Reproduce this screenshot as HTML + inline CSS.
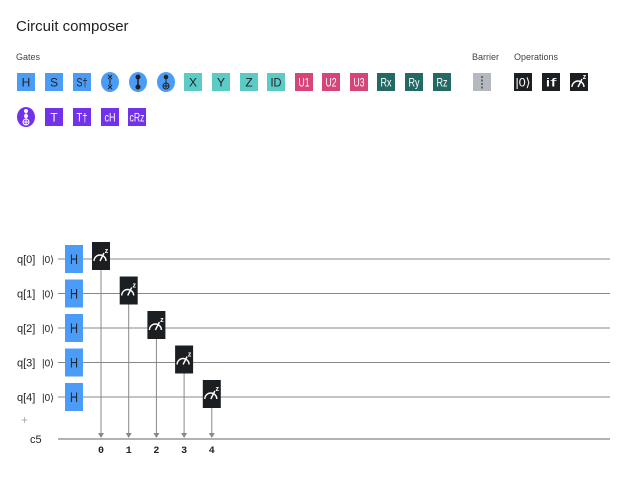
<!DOCTYPE html>
<html><head><meta charset="utf-8"><style>
body{margin:0;background:#fff;font-family:"Liberation Sans",sans-serif}
svg{display:block}
.g{font-family:"Liberation Sans Narrow","Liberation Sans",sans-serif}
</style></head><body>
<svg id="s" width="640" height="480" xmlns="http://www.w3.org/2000/svg">
<text x="16" y="31" font-size="15" fill="#222" class="g">Circuit composer</text>
<text x="16" y="60" font-size="9" fill="#444" class="g">Gates</text>
<text x="472" y="60" font-size="9" fill="#444" class="g">Barrier</text>
<text x="514" y="60" font-size="9" fill="#444" class="g">Operations</text>
<g id="pal"></g>
<g id="circ"></g>
</svg>
<script>
const NS="http://www.w3.org/2000/svg";
const qubits=["q[0]","q[1]","q[2]","q[3]","q[4]"];
const measureBits=[0,1,2,3,4];
const classicalReg="c5";
function mk(t,a,p){const e=document.createElementNS(NS,t);for(const k in a)e.setAttribute(k,a[k]);p.appendChild(e);return e;}
const pal=document.getElementById('pal');
const gates=[
["H",17,73,"#4a9cf7","#222","box"],["S",45,73,"#4a9cf7","#222","box"],["S†",73,73,"#4a9cf7","#222","box"],
["swap",101,73,"#4a9cf7","#222","circ"],["cz",129,73,"#4a9cf7","#222","circ"],["cx",157,73,"#4a9cf7","#222","circ"],
["X",184,73,"#5bcbc6","#222","box"],["Y",212,73,"#5bcbc6","#222","box"],["Z",240,73,"#5bcbc6","#222","box"],["ID",267,73,"#5bcbc6","#222","box"],
["U1",295,73,"#d6457a","#fff","box"],["U2",322,73,"#d6457a","#fff","box"],["U3",350,73,"#d6457a","#fff","box"],
["Rx",377,73,"#246a64","#fff","box"],["Ry",405,73,"#246a64","#fff","box"],["Rz",433,73,"#246a64","#fff","box"],
["barrier",473,73,"#b4b8bf","#333","bar"],
["|0⟩",514,73,"#1c1f22","#fff","box"],["if",542,73,"#1c1f22","#fff","box"],["meas",570,73,"#1c1f22","#fff","meas"],
["ccx",17,108,"#7232ea","#fff","circ"],["T",45,108,"#7232ea","#fff","box"],["T†",73,108,"#7232ea","#fff","box"],
["cH",101,108,"#7232ea","#fff","box"],["cRz",128,108,"#7232ea","#fff","box"]];
function meter(g,x,y,w,h){
 const cx=x+w/2-1,cy=y+h/2+5;
 mk('path',{d:`M${cx-6} ${cy} A6 6 0 0 1 ${cx+6} ${cy}`,stroke:'#fff',fill:'none','stroke-width':1.4},g);
 mk('line',{x1:cx,y1:cy,x2:cx+4,y2:cy-8,stroke:'#fff','stroke-width':1.4},g);
 const t=mk('text',{x:x+w-3.5,y:y+h/2-3,'font-size':7,fill:'#fff','font-weight':'bold','text-anchor':'middle'},g);t.textContent='z';
}
gates.forEach(([n,x,y,c,tc,k])=>{
 const g=mk('g',{},pal);
 
 
 if(k==='circ'){
  mk('ellipse',{cx:x+9,cy:y+9,rx:9,ry:10,fill:c},g);
  if(n==='swap'){mk('path',{d:`M${x+7} ${y+2}l4 4m0 -4l-4 4M${x+7} ${y+12}l4 4m0 -4l-4 4`,stroke:'#222','stroke-width':1},g);mk('line',{x1:x+9,y1:y+6,x2:x+9,y2:y+12,stroke:'#222'},g);}
  else if(n==='cz'){mk('line',{x1:x+9,y1:y+4,x2:x+9,y2:y+14,stroke:'#222','stroke-width':1.5},g);mk('circle',{cx:x+9,cy:y+4,r:2.5,fill:'#222'},g);mk('circle',{cx:x+9,cy:y+14,r:2.5,fill:'#222'},g);}
  else if(n==='cx'){mk('line',{x1:x+9,y1:y+4,x2:x+9,y2:y+15,stroke:'#222'},g);mk('circle',{cx:x+9,cy:y+4,r:2.3,fill:'#222'},g);mk('circle',{cx:x+9,cy:y+13,r:3,fill:'none',stroke:'#222'},g);mk('line',{x1:x+6,y1:y+13,x2:x+12,y2:y+13,stroke:'#222'},g);}
  else{mk('line',{x1:x+9,y1:y+2,x2:x+9,y2:y+17,stroke:'#fff'},g);mk('circle',{cx:x+9,cy:y+3,r:2,fill:'#fff'},g);mk('circle',{cx:x+9,cy:y+8,r:2,fill:'#fff'},g);mk('circle',{cx:x+9,cy:y+14,r:3,fill:'none',stroke:'#fff'},g);mk('line',{x1:x+6,y1:y+14,x2:x+12,y2:y+14,stroke:'#fff'},g);}
 } else {
  mk('rect',{x:x,y:y,width:18,height:18,fill:c},g);
  if(k==='bar'){mk('line',{x1:x+9,y1:y+3,x2:x+9,y2:y+16,stroke:'#333','stroke-dasharray':'2,1.5','stroke-width':1.2},g);}
  else if(k==='meas'){meter(g,x,y,18,18);}
  else{
   const a={x:x+9,y:y+13.5,'font-size':12,'text-anchor':'middle',fill:tc,class:'g'};
   if(n.length===2){a.textLength=11;a.lengthAdjust='spacingAndGlyphs';}
   if(n.length>=3){a.textLength=15;a.lengthAdjust='spacingAndGlyphs';}
   const t=mk('text',a,g);t.textContent=n;}
 }
});
const circ=document.getElementById('circ');
const y0=259,dy=34.5,xL=58,xR=610,cy=439;
const colX=i=>92+i*27.7;
const wy=i=>y0+i*dy;
qubits.forEach((q,i)=>{
 const y=wy(i);
 const w=mk('line',{x1:xL,y1:y,x2:xR,y2:y,stroke:'#888','stroke-width':1},circ);
 
 
 const l=mk('text',{x:17,y:y+4,'font-size':11,fill:'#222',class:'g'},circ);l.textContent=q;
 
 
 const k=mk('text',{x:42,y:y+4,'font-size':10,fill:'#222',class:'g'},circ);k.textContent='|0⟩';
 
 
 const h=mk('g',{},circ);
 
 
 mk('rect',{x:65,y:y-14,width:18,height:28,fill:'#4a9cf7'},h);
 const ht=mk('text',{x:74,y:y+5,'font-size':14,'text-anchor':'middle',fill:'#222',class:'g',textLength:8,lengthAdjust:'spacingAndGlyphs'},h);ht.textContent='H';
});
const c=mk('line',{x1:xL,y1:cy,x2:xR,y2:cy,stroke:'#999','stroke-width':1.5},circ);


const cl=mk('text',{x:30,y:cy+4,'font-size':11,fill:'#222',class:'g'},circ);cl.textContent=classicalReg;


const pl=mk('text',{x:21,y:424,'font-size':12,fill:'#aaa'},circ);pl.textContent='+';


measureBits.forEach((b,i)=>{
 const x=colX(i),y=wy(i);
 const g=mk('g',{},circ);
 
 
 mk('line',{x1:x+9,y1:y+11,x2:x+9,y2:cy-5,stroke:'#888'},g);
 mk('path',{d:`M${x+6} ${cy-6} L${x+12} ${cy-6} L${x+9} ${cy-1} Z`,fill:'#888'},g);
 mk('rect',{x:x,y:y-17,width:18,height:28,fill:'#1c1f22'},g);
 meter(g,x,y-17,18,28);
 const t=mk('text',{x:x+9,y:cy+14,'font-size':10,'font-weight':'bold','text-anchor':'middle',fill:'#222','font-family':'Liberation Mono, monospace'},circ);t.textContent=b;
 
 
});
</script>
</body></html>
